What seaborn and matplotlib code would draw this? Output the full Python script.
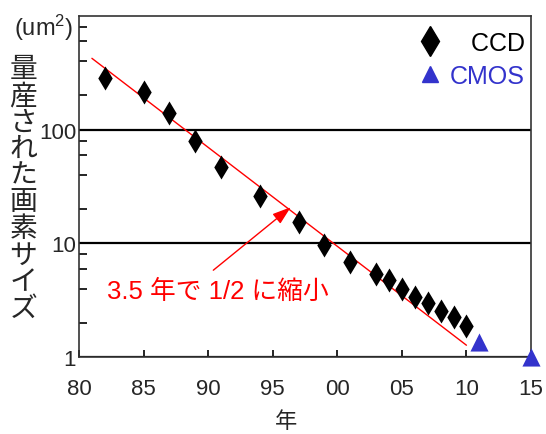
import matplotlib
matplotlib.use('Agg')
import matplotlib.pyplot as plt
from matplotlib.lines import Line2D
from matplotlib.ticker import FixedLocator, NullFormatter
import seaborn as sns

# %% data
ccd_year = [1982, 1985, 1987, 1989, 1991, 1994, 1997, 1999, 2001, 2003,
            2004, 2005, 2006, 2007, 2008, 2009, 2010]
ccd_size = [282, 216, 139, 80, 47, 26, 15.4, 9.6, 6.9, 5.4,
            4.8, 4.0, 3.4, 3.0, 2.55, 2.23, 1.88]
cmos_year = [2011, 2015]
cmos_size = [1.35, 1.0]
trend_year = [1981, 2010]
trend_size = [424, 1.27]

x_ticks = [1980, 1985, 1990, 1995, 2000, 2005, 2010, 2015]
x_labels = ['80', '85', '90', '95', '00', '05', '10', '15']
y_ticks = [1, 10, 100]
y_labels = ['1', '10', '100']
y_minor = [m * 10 ** e for e in range(0, 3) for m in (2, 4, 6, 8)]

ylabel_text = '量産された画素サイズ'
note_text = '3.5 年で 1/2 に縮小'
note_xy = (1982.2, 3.8)
arrow_tail = (1990.4, 5.8)
arrow_head = (1996.4, 20.8)

blue = '#3333cc'

# %% style
sns.set_style('ticks')
plt.rcParams['font.family'] = ['Liberation Sans', 'Noto Sans CJK JP', 'DejaVu Sans']
plt.rcParams['mathtext.fontset'] = 'custom'
plt.rcParams['mathtext.rm'] = 'Liberation Sans'
plt.rcParams['mathtext.it'] = 'Liberation Sans'

fig = plt.figure(figsize=(5.46, 4.35), dpi=100)
ax = fig.add_axes([0.1447, 0.177, 0.8278, 0.784])

sns.lineplot(x=trend_year, y=trend_size, color='red', linewidth=1.0, ax=ax, zorder=3)
sns.scatterplot(x=ccd_year, y=ccd_size, marker='d', s=150, color='black',
                linewidth=0, ax=ax, zorder=4)
sns.scatterplot(x=cmos_year, y=cmos_size, marker='^', s=170, color=blue,
                linewidth=0, ax=ax, zorder=4, clip_on=False)

ax.set_yscale('log')
ax.set_xlim(1980, 2015)
ax.set_ylim(1, 1000)

ax.set_xticks(x_ticks)
ax.set_xticklabels(x_labels)
ax.set_yticks(y_ticks)
ax.set_yticklabels(y_labels)
ax.yaxis.set_minor_locator(FixedLocator(y_minor))
ax.yaxis.set_minor_formatter(NullFormatter())
ax.xaxis.set_minor_locator(FixedLocator([]))

ax.tick_params(axis='x', direction='in', length=5, width=1.2, pad=15,
               labelsize=16, color='black')
ax.tick_params(axis='y', which='major', direction='in', length=0, pad=2,
               labelsize=16)
ax.tick_params(axis='y', which='minor', direction='in', length=6, width=1.2,
               color='black')

ax.yaxis.grid(True, which='major', color='black', linewidth=1.6)
ax.xaxis.grid(False)
for side in ['top', 'right', 'left', 'bottom']:
    ax.spines[side].set_visible(True)
    ax.spines[side].set_color('#333333')
    ax.spines[side].set_linewidth(1.2)

# x label, placed under the 95 tick like the original
ax.set_xlabel('年', fontsize=16)
ax.xaxis.set_label_coords(0.458, -0.158)

# vertical japanese label + unit
fig.text(0.043, 0.563, '\n'.join(ylabel_text), fontsize=20, ha='center',
         va='center', linespacing=1.03)
fig.text(0.025, 0.935, '(um$^{2}$)', fontsize=17, ha='left', va='center')

# halving note with arrow
ax.annotate('', xy=arrow_head, xytext=arrow_tail,
            arrowprops=dict(arrowstyle='-|>,head_length=0.75,head_width=0.25',
                            color='red', lw=1.0, shrinkA=0, shrinkB=0,
                            mutation_scale=15))
ax.text(note_xy[0], note_xy[1], note_text, color='red', fontsize=18.5,
        ha='left', va='center')

# legend
handles = [Line2D([], [], marker='d', color='black', linestyle='none', markersize=15),
           Line2D([], [], marker='^', color=blue, linestyle='none', markersize=12)]
ax.legend(handles, ['   CCD', 'CMOS'], loc='upper right', bbox_to_anchor=(1.008, 0.985),
          frameon=False, fontsize=18, handlelength=1.0, handletextpad=0.3,
          borderaxespad=0, labelcolor=['black', blue], labelspacing=0.35)

fig.savefig('out.png', dpi=100)
